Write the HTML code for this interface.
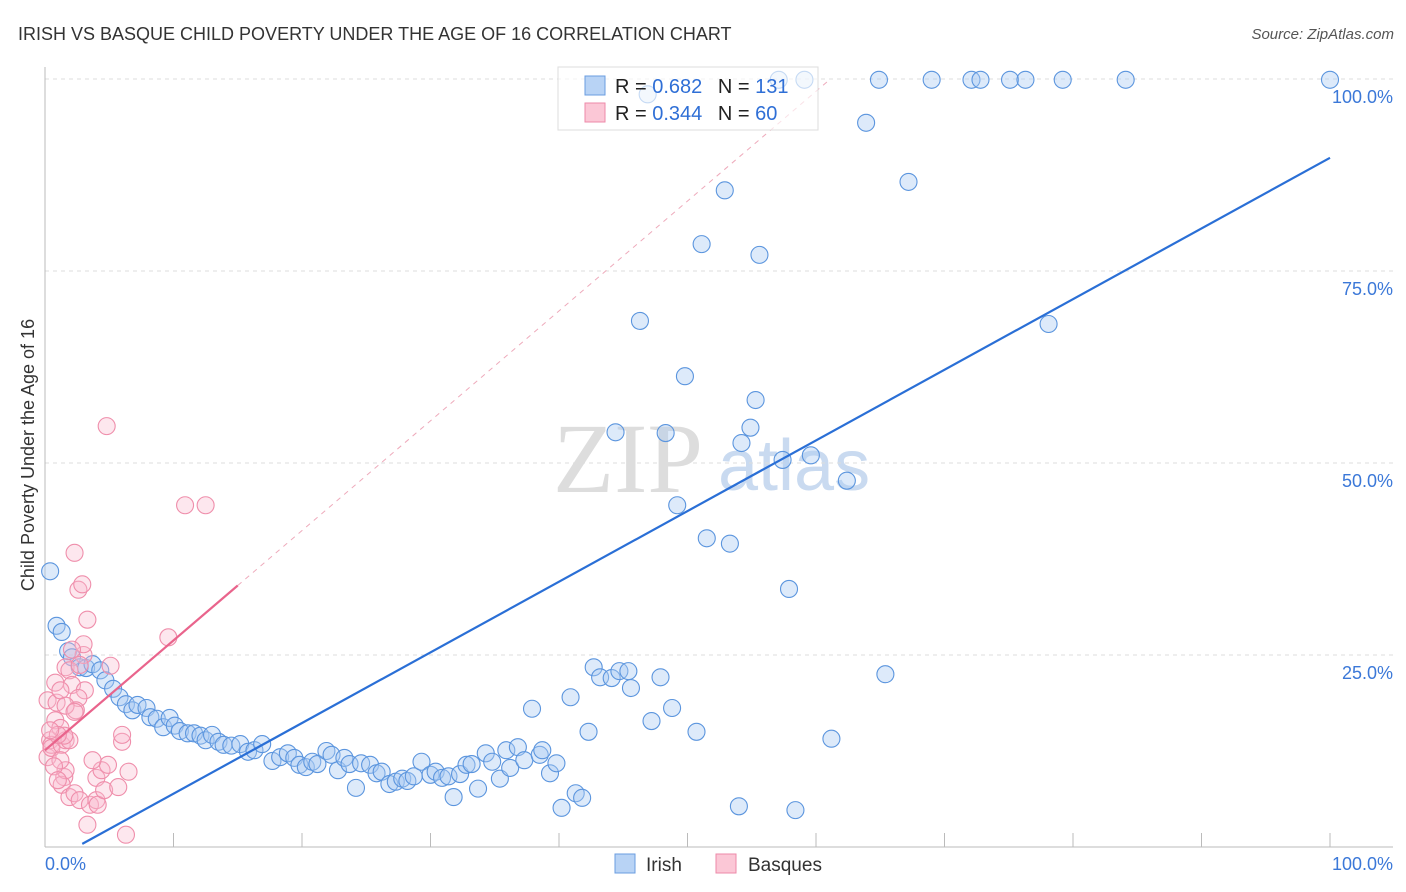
<!DOCTYPE html>
<html><head><meta charset="utf-8"><style>
body{margin:0;background:#fff;font-family:"Liberation Sans",sans-serif;}
svg{display:block}
</style></head><body>
<svg id="chart" width="1406" height="892" xmlns="http://www.w3.org/2000/svg">
<text x="18" y="40" font-size="18" fill="#333">IRISH VS BASQUE CHILD POVERTY UNDER THE AGE OF 16 CORRELATION CHART</text>
<text x="1394" y="39" font-size="15" fill="#555" text-anchor="end" font-style="italic">Source: ZipAtlas.com</text>
<g><text x="553" y="492" font-size="100" fill="#ddd" font-family="Liberation Serif,serif">ZIP</text><text x="718" y="490" font-size="72" fill="#c9daf0" >atlas</text></g>
<g id="grid"></g>
<g id="axes"></g>
<g id="marks"></g>
<text transform="translate(34,455) rotate(-90)" font-size="18" fill="#333" text-anchor="middle">Child Poverty Under the Age of 16</text>
<g>
<rect x="558" y="67" width="260" height="63" fill="rgba(255,255,255,0.65)" stroke="#ddd"/>
<rect x="585" y="76" width="20" height="19" fill="#b8d3f5" stroke="#6a9de0"/>
<rect x="585" y="103" width="20" height="19" fill="#fbc7d6" stroke="#ee8aa8"/>
<text x="615" y="93" font-size="20" fill="#222">R = <tspan fill="#2f6fd6">0.682</tspan>  <tspan dx="10">N = </tspan><tspan fill="#2f6fd6">131</tspan></text>
<text x="615" y="120" font-size="20" fill="#222">R = <tspan fill="#2f6fd6">0.344</tspan>  <tspan dx="10">N = </tspan><tspan fill="#2f6fd6"> 60</tspan></text>
</g>
<g>
<rect x="615" y="854" width="20" height="19" fill="#b8d3f5" stroke="#6a9de0"/>
<text x="646" y="871" font-size="19" fill="#333">Irish</text>
<rect x="716" y="854" width="20" height="19" fill="#fbc7d6" stroke="#ee8aa8"/>
<text x="748" y="871" font-size="19" fill="#333">Basques</text>
</g>
</svg>
<script>
const yTicks=[100,75,50,25];
const yTickLabels=["100.0%","75.0%","50.0%","25.0%"];
const xTickVals=[0,10,20,30,40,50,60,70,80,90,100];
const irishX=[0.4,0.9,1.3,1.8,2.1,2.7,3.2,3.7,4.3,4.7,5.3,5.8,6.3,6.8,7.2,7.9,8.2,8.7,9.2,9.7,10.1,10.5,11.1,11.6,12.1,12.5,13.0,13.5,13.9,14.5,15.2,15.8,16.3,16.9,17.7,18.3,18.9,19.4,19.8,20.3,20.8,21.2,21.9,22.3,22.8,23.3,23.7,24.2,24.6,25.3,25.8,26.2,26.8,27.3,27.8,28.2,28.7,29.3,30.0,30.4,30.9,31.4,31.8,32.3,32.8,33.2,33.7,34.3,34.8,35.4,35.9,36.2,36.8,37.3,37.9,38.5,38.7,39.3,39.8,40.2,40.9,41.3,41.8,42.3,42.7,43.2,44.1,44.7,45.4,45.6,47.2,47.9,48.8,50.7,54.0,58.4,61.2,65.4,57.9,51.5,53.3,49.2,62.4,57.4,59.6,54.2,54.9,44.4,48.3,55.3,49.8,46.3,78.1,55.6,51.1,67.2,52.9,63.9,46.9,57.1,59.1,64.9,69.0,72.1,72.8,75.1,76.3,79.2,84.1,100];
const irishY=[35.9,28.8,28.0,25.5,24.7,23.4,23.3,23.8,23.0,21.7,20.6,19.5,18.6,17.8,18.5,18.1,16.9,16.7,15.6,16.8,15.8,15.1,14.8,14.8,14.5,13.9,14.6,13.7,13.3,13.2,13.4,12.4,12.6,13.4,11.2,11.7,12.2,11.6,10.7,10.4,11.1,10.8,12.5,12.0,10.0,11.6,10.8,7.7,10.9,10.7,9.6,9.8,8.2,8.5,8.9,8.6,9.2,11.1,9.4,9.8,9.0,9.2,6.5,9.5,10.7,10.8,7.6,12.2,11.1,8.9,12.6,10.3,13.0,11.3,18.0,12.0,12.6,9.6,10.9,5.1,19.5,7.0,6.4,15.0,23.4,22.1,22.0,22.9,22.9,20.7,16.4,22.1,18.1,15.0,5.3,4.8,14.1,22.5,33.6,40.2,39.5,44.5,47.7,50.4,51.0,52.6,54.6,54.0,53.9,58.2,61.3,68.5,68.1,77.1,78.5,86.6,85.5,94.3,98.0,99.9,99.9,99.9,99.9,99.9,99.9,99.9,99.9,99.9,99.9,99.9];
const basqueX=[0.2,0.4,0.5,0.2,0.8,0.5,0.9,1.2,0.8,1.3,1.6,1.9,1.6,1.9,2.1,2.3,2.6,2.9,3.0,3.3,3.0,2.7,3.1,2.6,2.4,2.1,1.2,1.5,1.3,1.6,1.9,2.3,2.7,3.3,3.5,4.0,4.1,4.0,4.4,4.6,4.9,5.1,5.7,6.0,6.0,6.5,6.3,4.8,10.9,12.5,9.6,1.2,1.5,1.0,0.4,0.7,1.6,2.3,1.0,3.7];
const basqueY=[11.7,13.9,13.3,19.1,16.5,12.9,18.8,15.5,21.4,13.3,13.9,13.9,23.4,23.0,21.1,38.3,33.5,34.2,25.0,29.6,26.4,23.7,20.4,19.4,17.8,25.7,20.4,9.1,8.1,10.0,6.5,7.0,6.1,2.9,5.5,6.1,5.5,9.0,10.0,7.4,10.7,23.6,7.8,13.7,14.6,9.8,1.6,54.8,44.5,44.5,27.3,11.3,14.5,14.6,15.2,10.5,18.4,17.6,8.7,11.3];
const irishTrend=[-2.26,0.92];
const basqueTrend=[12.6,1.43];
const NS="http://www.w3.org/2000/svg";
const X=v=>45+v*12.85, Y=v=>847-v*7.68;
function mk(tag,attrs,parent){const e=document.createElementNS(NS,tag);for(const k in attrs)e.setAttribute(k,attrs[k]);parent.appendChild(e);return e;}
const grid=document.getElementById('grid'),axes=document.getElementById('axes'),marks=document.getElementById('marks');
yTicks.forEach((t,i)=>{
 const l=mk('line',{x1:45,x2:1393,y1:Y(t),y2:Y(t),stroke:'#ddd','stroke-dasharray':'4,4'},grid);
 
 
 const tx=mk('text',{x:1393,y:Y(t)+24,'font-size':18,fill:'#3b78d8','text-anchor':'end'},axes);tx.textContent=yTickLabels[i];
 
 
});
mk('line',{x1:45,x2:45,y1:67,y2:847,stroke:'#bbb'},axes);
mk('line',{x1:45,x2:1393,y1:847,y2:847,stroke:'#bbb'},axes);
xTickVals.forEach(t=>{const l=mk('line',{x1:X(t),x2:X(t),y1:833,y2:847,stroke:'#bbb'},axes);
 
 });
let t0=mk('text',{x:45,y:870,'font-size':18,fill:'#3b78d8'},axes);t0.textContent='0.0%';


let t1=mk('text',{x:1393,y:870,'font-size':18,fill:'#3b78d8','text-anchor':'end'},axes);t1.textContent='100.0%';


irishX.forEach((x,i)=>{const c=mk('circle',{cx:X(x),cy:Y(irishY[i]),r:8.5,fill:'rgba(170,202,242,0.4)',stroke:'#5b95de','stroke-width':1.1},marks);
 
 });
basqueX.forEach((x,i)=>{const c=mk('circle',{cx:X(x),cy:Y(basqueY[i]),r:8.5,fill:'rgba(248,185,205,0.35)',stroke:'#ef8eab','stroke-width':1.1},marks);
 
 });
const ix0=2.9;
let il=mk('line',{x1:X(ix0),y1:Y(irishTrend[0]+irishTrend[1]*ix0),x2:X(100),y2:Y(irishTrend[0]+irishTrend[1]*100),stroke:'#2a6fd6','stroke-width':2.2},marks);


let bl=mk('line',{x1:X(0),y1:Y(basqueTrend[0]),x2:X(15),y2:Y(basqueTrend[0]+basqueTrend[1]*15),stroke:'#e9648c','stroke-width':2.2},marks);


const bEnd=(100-basqueTrend[0])/basqueTrend[1];
let bd=mk('line',{x1:X(15),y1:Y(basqueTrend[0]+basqueTrend[1]*15),x2:X(bEnd),y2:Y(100),stroke:'#eeaabb','stroke-width':1,'stroke-dasharray':'5,5'},marks);


</script>
</body></html>
